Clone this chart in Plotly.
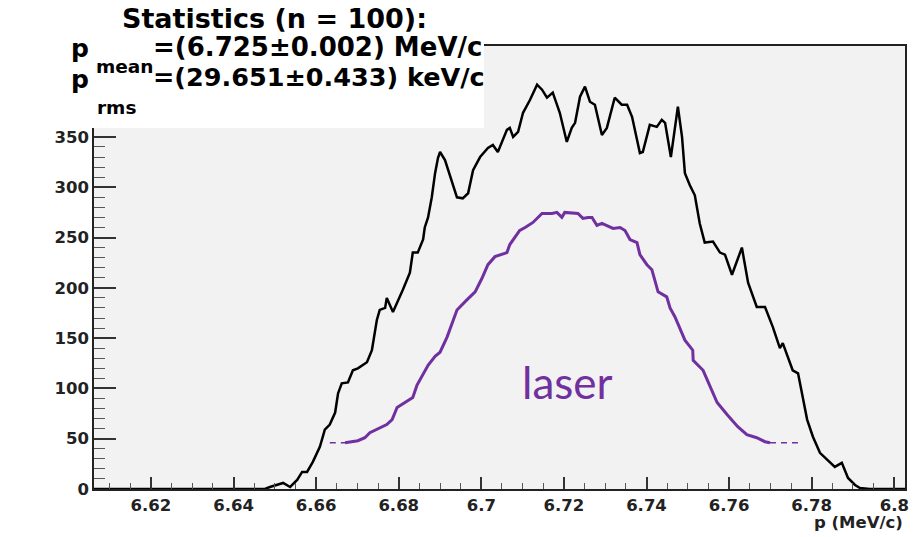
import plotly.graph_objects as go

# Momentum spectrum, all electrons (n = 100 shots)
p_total = [6.6062, 6.6476, 6.6488, 6.6505, 6.6520, 6.6537, 6.6554, 6.6566, 6.6578, 6.6592,
           6.6609, 6.6621, 6.6633, 6.6646, 6.6653, 6.6662, 6.6677, 6.6689, 6.6701, 6.6723,
           6.6735, 6.6747, 6.6754, 6.6767, 6.6771, 6.6786, 6.6796, 6.6810, 6.6827, 6.6834,
           6.6846, 6.6859, 6.6863, 6.6871, 6.6880, 6.6888, 6.6895, 6.6900, 6.6912, 6.6929,
           6.6941, 6.6955, 6.6968, 6.6980, 6.6997, 6.7016, 6.7028, 6.7040, 6.7050, 6.7062,
           6.7069, 6.7077, 6.7089, 6.7101, 6.7118, 6.7135, 6.7147, 6.7159, 6.7173, 6.7190,
           6.7207, 6.7219, 6.7227, 6.7239, 6.7251, 6.7263, 6.7275, 6.7292, 6.7304, 6.7323,
           6.7340, 6.7353, 6.7365, 6.7384, 6.7391, 6.7408, 6.7425, 6.7437, 6.7445, 6.7459,
           6.7476, 6.7486, 6.7493, 6.7505, 6.7517, 6.7529, 6.7541, 6.7561, 6.7578, 6.7590,
           6.7607, 6.7631, 6.7646, 6.7667, 6.7687, 6.7706, 6.7723, 6.7730, 6.7754, 6.7767,
           6.7789, 6.7803, 6.7820, 6.7837, 6.7856, 6.7873, 6.7888, 6.7905, 6.7917, 6.7941,
           6.8026]
counts_total = [0, 0, 2, 4, 6, 2, 9, 17, 17, 27,
                42, 59, 64, 76, 95, 105, 106, 118, 120, 126,
                138, 168, 178, 180, 190, 176, 185, 198, 215, 235,
                235, 248, 260, 270, 290, 314, 329, 335, 327, 304,
                290, 289, 294, 317, 330, 339, 342, 335, 345, 357,
                359, 350, 355, 374, 387, 402, 397, 389, 394, 374,
                345, 359, 364, 390, 400, 385, 382, 352, 359, 389,
                382, 382, 370, 334, 335, 362, 360, 367, 364, 330,
                380, 350, 314, 302, 292, 264, 245, 246, 235, 233,
                213, 240, 205, 181, 181, 161, 140, 145, 118, 115,
                69, 52, 36, 29, 22, 26, 11, 4, 1, 0,
                0]

# Laser-induced component
p_laser = [6.6670, 6.6701, 6.6718, 6.6730, 6.6771, 6.6784, 6.6796, 6.6815, 6.6834, 6.6844,
           6.6859, 6.6871, 6.6888, 6.6900, 6.6917, 6.6941, 6.6965, 6.6985, 6.7001, 6.7016,
           6.7033, 6.7052, 6.7062, 6.7069, 6.7081, 6.7093, 6.7106, 6.7125, 6.7147, 6.7171,
           6.7183, 6.7195, 6.7202, 6.7234, 6.7246, 6.7258, 6.7268, 6.7280, 6.7292, 6.7319,
           6.7336, 6.7348, 6.7360, 6.7377, 6.7384, 6.7401, 6.7413, 6.7428, 6.7449, 6.7457,
           6.7469, 6.7493, 6.7512, 6.7513, 6.7537, 6.7571, 6.7595, 6.7621, 6.7643, 6.7667,
           6.7687, 6.7699]
counts_laser = [46, 48, 51, 56, 64, 69, 81, 86, 91, 103,
                115, 123, 132, 136, 151, 178, 188, 196, 209, 223,
                231, 234, 235, 243, 250, 257, 260, 265, 274, 274,
                275, 270, 275, 274, 269, 270, 270, 262, 264, 259,
                260, 257, 248, 245, 233, 223, 218, 196, 191, 180,
                171, 148, 138, 128, 118, 86, 74, 62, 54, 51,
                47, 46]
# Baseline level extending the laser curve at both ends
p_laser_low = [6.6633, 6.6670]
p_laser_high = [6.7699, 6.7772]
laser_base = 46

x_tick_vals = [6.62, 6.64, 6.66, 6.68, 6.70, 6.72, 6.74, 6.76, 6.78, 6.80]
x_tick_text = ["6.62", "6.64", "6.66", "6.68", "6.7", "6.72", "6.74", "6.76", "6.78", "6.8"]
y_tick_vals = [0, 50, 100, 150, 200, 250, 300, 350]

stats_lines = ["Statistics (n = 100):", "=(6.725\u00b10.002) MeV/c", "=(29.651\u00b10.433) keV/c"]

W, H = 919, 537
ML, MR, MT, MB = 94, 14, 46, 48
PW, PH = W - ML - MR, H - MT - MB


def px(x):
    return (x - ML) / PW


def py(y):
    return 1 - (y - MT) / PH


PURPLE = "#7030a0"
FONT = "DejaVu Sans"

fig = go.Figure()
fig.add_trace(go.Scatter(x=p_total, y=counts_total, mode="lines",
                         line=dict(color="black", width=2.5), hoverinfo="skip"))
fig.add_trace(go.Scatter(x=p_laser, y=counts_laser, mode="lines",
                         line=dict(color=PURPLE, width=3), hoverinfo="skip"))
for seg in (p_laser_low, p_laser_high):
    fig.add_trace(go.Scatter(x=seg, y=[laser_base] * len(seg), mode="lines",
                             line=dict(color=PURPLE, width=1.5, dash="6px,5px"),
                             hoverinfo="skip"))

tickfont = dict(family=FONT, size=16.5, color="#222222", weight="bold")
fig.update_xaxes(range=[6.6062, 6.8026], tickvals=x_tick_vals, ticktext=x_tick_text,
                 ticks="inside", ticklen=12, tickwidth=1.5, tickcolor="#333333",
                 minor=dict(dtick=0.005, ticks="inside", ticklen=6, tickcolor="#555555", tickwidth=1.2),
                 showline=True, linecolor="#222222", linewidth=2, mirror=True,
                 showgrid=False, zeroline=False, tickfont=tickfont)
fig.update_yaxes(range=[0, 440.4], tickvals=y_tick_vals,
                 ticks="inside", ticklen=22, tickwidth=1.5, tickcolor="#333333",
                 minor=dict(dtick=10, ticks="inside", ticklen=11, tickcolor="#555555", tickwidth=1.2),
                 showline=True, linecolor="#222222", linewidth=1.5, mirror=True,
                 showgrid=False, zeroline=False, tickfont=tickfont)

# Statistics box over the top-left corner
fig.add_shape(type="rect", xref="paper", yref="paper", layer="above",
              x0=px(-2), x1=px(484), y0=py(128), y1=py(-2),
              fillcolor="white", line=dict(width=0))


def bold(size):
    return dict(family=FONT, size=size, color="black", weight="bold")


ann = [
    dict(text=stats_lines[0], x=px(274), y=py(18), xanchor="center", font=bold(27)),
    dict(text="p", x=px(69), y=py(48.5), xanchor="left", font=bold(25)),
    dict(text="mean", x=px(94), y=py(67), xanchor="left", font=bold(18.5)),
    dict(text=stats_lines[1], x=px(151), y=py(47.5), xanchor="left", font=bold(26)),
    dict(text="p", x=px(69), y=py(79.5), xanchor="left", font=bold(25)),
    dict(text="rms", x=px(95), y=py(107.5), xanchor="left", font=bold(18.5)),
    dict(text=stats_lines[2], x=px(151), y=py(77.5), xanchor="left", font=bold(25.5)),
    dict(text="p (MeV/c)", x=px(905), y=py(522), xanchor="right",
         font=dict(family=FONT, size=16.5, color="#222222", weight="bold")),
    dict(text="laser", x=px(567), y=py(382), xanchor="center",
         font=dict(family="Lato", size=44, color=PURPLE)),
]
for a in ann:
    fig.add_annotation(xref="paper", yref="paper", yanchor="middle", showarrow=False, **a)

fig.update_layout(width=W, height=H, margin=dict(l=ML, r=MR, t=MT, b=MB, autoexpand=False),
                  plot_bgcolor="#f2f2f2", paper_bgcolor="white", showlegend=False)

fig.write_html("out.html")
